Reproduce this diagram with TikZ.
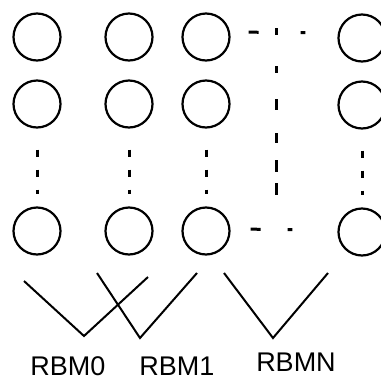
\documentclass[tikz,border=0pt]{standalone}
\usepackage{fontspec}
\setmainfont{Liberation Sans}
\usepackage{tikz}
\newcommand{\labelSize}[0]{\fontsize{27}{32}\selectfont}

\begin{document}
\begin{tikzpicture}[x=1pt, y=-1pt]
  \tikzset{unit/.style={circle, draw, line width=2.2pt, minimum size=47pt, inner sep=0pt},
           gapdots/.style={line width=3pt, dash pattern=on 7pt off 13pt},
           rbmline/.style={line width=2pt},
           rbmlabel/.style={font=\labelSize, inner sep=0pt}}
  \useasboundingbox (0,0) rectangle (381,381);
  % visible units
  \node[unit] (v1a) at (37,37) {};
  \node[unit] (v1b) at (37,104) {};
  \node[unit] (v1n) at (37,231) {};
  \node[unit] (v2a) at (129,37) {};
  \node[unit] (v2b) at (129,104) {};
  \node[unit] (v2n) at (129,231) {};
  \node[unit] (v3a) at (206,37) {};
  \node[unit] (v3b) at (206,104) {};
  \node[unit] (v3n) at (206,231) {};
  \node[unit] (vNa) at (362,38) {};
  \node[unit] (vNb) at (362,105) {};
  \node[unit] (vNn) at (362,232) {};
  % elided units
  \draw[gapdots, shorten <=21pt, shorten >=12pt] (v1b) -- (v1n);
  \draw[gapdots, shorten <=21pt, shorten >=12pt] (v2b) -- (v2n);
  \draw[gapdots, shorten <=21pt, shorten >=12pt] (v3b) -- (v3n);
  \draw[gapdots, shorten <=21pt, shorten >=12pt] (vNb) -- (vNn);
  % elided layers
  \coordinate (midtop) at (276,28);
  \coordinate (midbot) at (276,195);
  \draw[line width=3pt, dash pattern=on 7pt off 31pt on 7pt off 26pt on 11pt off 23pt on 10pt off 17pt on 12pt off 11pt on 12pt] (midtop) -- (midbot);
  \draw[line width=3pt, dash pattern=on 10pt off 42pt on 6pt,
        shorten <=18pt, shorten >=32pt] ([yshift=5pt]v3a.east) -- ([yshift=5pt]vNa.west);
  \draw[line width=3pt, dash pattern=on 10pt off 27pt on 6pt,
        shorten <=20pt, shorten >=45pt] ([yshift=2pt]v3n.east) -- ([yshift=2pt]vNn.west);
  % stacked machines
  \coordinate (r0l) at (24,281);
  \coordinate (r0v) at (84,336);
  \coordinate (r0r) at (148,277);
  \coordinate (r1l) at (97,273);
  \coordinate (r1v) at (140,338);
  \coordinate (r1r) at (197,273);
  \coordinate (rNl) at (224,273);
  \coordinate (rNv) at (273,338);
  \coordinate (rNr) at (328,273);
  \draw[rbmline] (r0l) -- (r0v) -- (r0r);
  \draw[rbmline] (r1l) -- (r1v) -- (r1r);
  \draw[rbmline] (rNl) -- (rNv) -- (rNr);
  \node[rbmlabel] (rbm0) at (68,366) {RBM0};
  \node[rbmlabel] (rbm1) at (177,366) {RBM1};
  \node[rbmlabel] (rbmN) at (296,362) {RBMN};
\end{tikzpicture}
\end{document}
